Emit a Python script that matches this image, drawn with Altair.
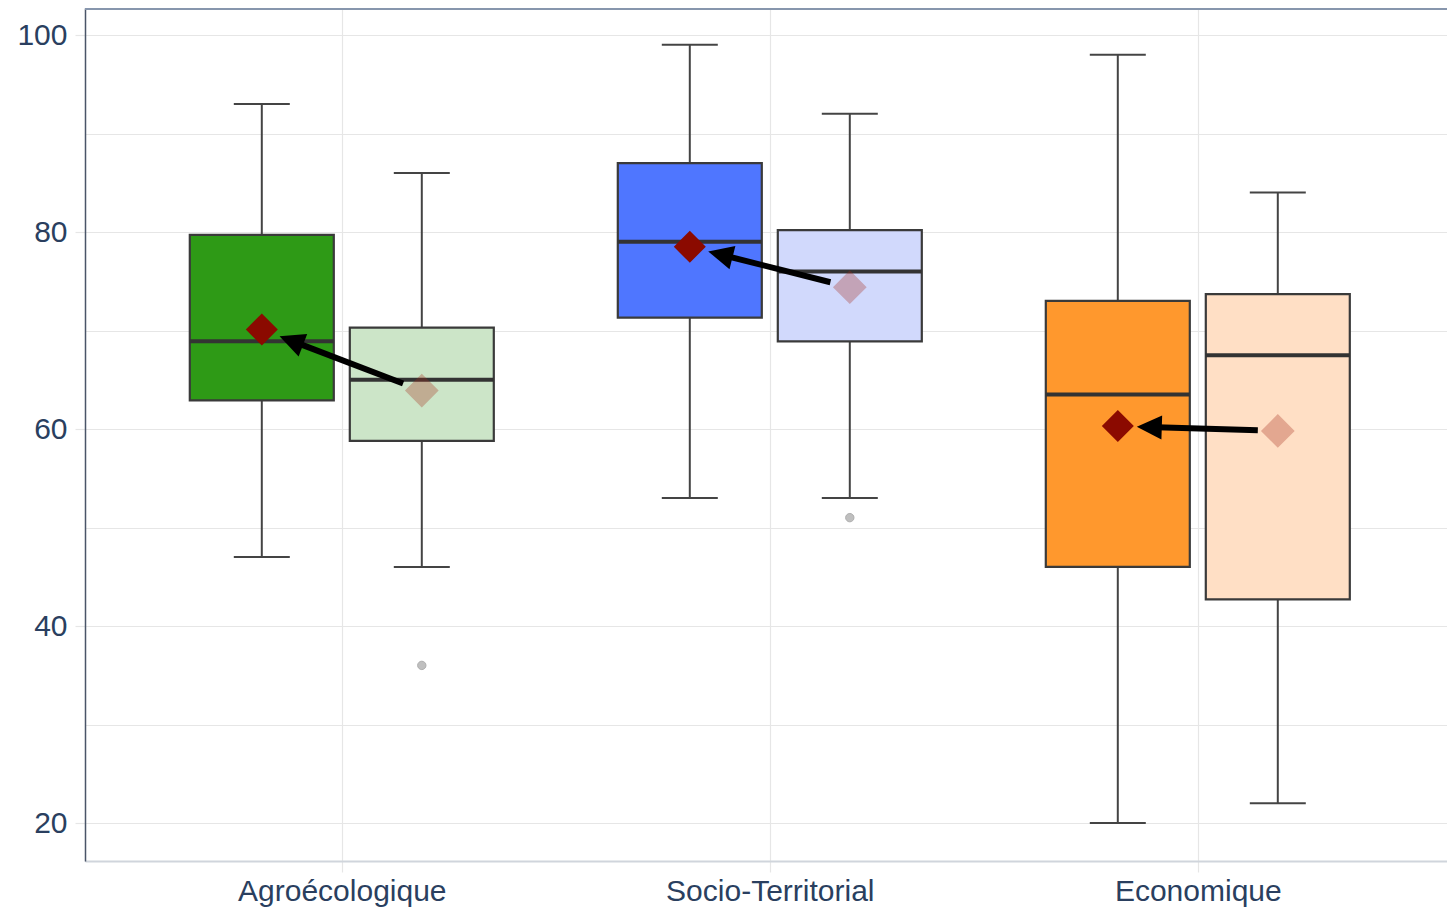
import math
import altair as alt
import pandas as pd

# ---------------- data ----------------
categories = ["Agroécologique", "Socio-Territorial", "Economique"]
series = ["fonce", "clair"]

dark_min = [47.0, 53.0, 20.0]
dark_q1 = [62.9, 71.3, 46.0]
dark_med = [68.9, 79.0, 63.5]
dark_q3 = [79.7, 87.0, 73.0]
dark_max = [93.0, 99.0, 98.0]
dark_mean = [70.1, 78.5, 60.3]

light_min = [46.0, 53.0, 22.0]
light_q1 = [58.8, 68.9, 42.7]
light_med = [65.0, 76.0, 67.5]
light_q3 = [70.3, 80.2, 73.7]
light_max = [86.0, 92.0, 84.0]
light_mean = [63.9, 74.4, 59.8]

outlier_cat = ["Agroécologique", "Socio-Territorial"]
outlier_series = ["clair", "clair"]
outlier_val = [36.0, 51.0]

dark_colors = ["#2e9a16", "#4f76ff", "#ff982d"]
light_colors = ["#cce5c8", "#d1d9fc", "#ffdfc5"]

# ---------------- layout constants ----------------
W, H = 1362, 853
X0, X1 = -0.6, -0.6 + W / 428.0
Y0, Y1 = 20 - 38 / 9.85, 100 + 27 / 9.85
PXX = W / (X1 - X0)
PXY = H / (Y1 - Y0)
OFF = 80 / PXX          # box centre offset
HALF = 72 / PXX         # box half width
CAP = 28 / PXX          # whisker cap half width

rows = []
for i, c in enumerate(categories):
    for s, mn, q1, md, q3, mx, me, col in [
        ("fonce", dark_min[i], dark_q1[i], dark_med[i], dark_q3[i], dark_max[i], dark_mean[i], dark_colors[i]),
        ("clair", light_min[i], light_q1[i], light_med[i], light_q3[i], light_max[i], light_mean[i], light_colors[i]),
    ]:
        xc = i + (-OFF if s == "fonce" else OFF)
        rows.append(dict(cat=c, serie=s, key=c + "|" + s, xc=xc,
                         bl=xc - HALF, br=xc + HALF, cl=xc - CAP, cr=xc + CAP,
                         mn=mn, q1=q1, md=md, q3=q3, mx=mx, mean=me))
boxes = pd.DataFrame(rows)

keys = [c + "|" + s for c in categories for s in series]
key_colors = []
for i in range(len(categories)):
    key_colors += [dark_colors[i], light_colors[i]]

out_rows = []
for c, s, v in zip(outlier_cat, outlier_series, outlier_val):
    i = categories.index(c)
    out_rows.append(dict(x=i + (OFF if s == "clair" else -OFF), y=v))
outliers = pd.DataFrame(out_rows)

# arrows from light mean to dark mean
arr = []
for i, c in enumerate(categories):
    lx, ly = i + OFF, light_mean[i]
    dx_, dy_ = i - OFF, dark_mean[i]
    px = (dx_ - lx) * PXX
    py = -(dy_ - ly) * PXY  # screen coords (down positive)
    L = math.hypot(px, py)
    ux, uy = px / L, py / L
    tail = (lx + 20 * ux / PXX, ly - 20 * uy / PXY)
    tip = (dx_ - 19 * ux / PXX, dy_ + 19 * uy / PXY)
    base = (tip[0] - 20 * ux / PXX, tip[1] + 20 * uy / PXY)
    ang = math.degrees(math.atan2(uy, ux)) % 360
    arr.append(dict(x=tail[0], y=tail[1], x2=base[0], y2=base[1],
                    tx=tip[0], ty=tip[1], angle=ang))
arrows = pd.DataFrame(arr)

xs = alt.Scale(domain=[X0, X1], nice=False, zero=False)
ys = alt.Scale(domain=[Y0, Y1], nice=False, zero=False)

label_expr = "[" + ",".join("'" + c + "'" for c in categories) + "][datum.value]"

x_axis = alt.Axis(values=list(range(len(categories))), labelExpr=label_expr, title=None,
                  grid=True, gridColor="#e6e6e6", gridWidth=1.2,
                  tickColor="#e6e6e6", tickSize=11, tickWidth=1.2,
                  domainColor="#d0d5dc", domainWidth=2,
                  labelFont="Liberation Sans", labelFontSize=30, labelColor="#2a3f5f",
                  labelPadding=4, labelLimit=0)
y_axis = alt.Axis(values=list(range(20, 101, 10)),
                  labelExpr="datum.value % 20 === 0 ? datum.label : ''",
                  title=None, grid=True, gridColor="#e6e6e6", gridWidth=1.2,
                  tickColor="#e6e6e6", tickSize=10, tickWidth=1.2,
                  tickOpacity={"condition": {"test": "datum.value % 20 === 0", "value": 1}, "value": 0},
                  domainColor="#4a5568", domainWidth=1.5,
                  labelFont="Liberation Sans", labelFontSize=30, labelColor="#2a3f5f",
                  labelPadding=8, labelLimit=0)

base_b = alt.Chart(boxes)

whisk = base_b.mark_rule(color="#444444", strokeWidth=2).encode(
    x=alt.X("xc:Q", scale=xs, axis=x_axis), y=alt.Y("mn:Q", scale=ys, axis=y_axis), y2="mx:Q")
cap_hi = base_b.mark_rule(color="#444444", strokeWidth=2).encode(
    x=alt.X("cl:Q", scale=xs), x2="cr:Q", y=alt.Y("mx:Q", scale=ys))
cap_lo = base_b.mark_rule(color="#444444", strokeWidth=2).encode(
    x=alt.X("cl:Q", scale=xs), x2="cr:Q", y=alt.Y("mn:Q", scale=ys))
box = base_b.mark_rect(stroke="#3a3a3a", strokeWidth=2.2).encode(
    x=alt.X("bl:Q", scale=xs), x2="br:Q",
    y=alt.Y("q1:Q", scale=ys), y2="q3:Q",
    fill=alt.Fill("key:N", scale=alt.Scale(domain=keys, range=key_colors), legend=None))
med = base_b.mark_rule(color="#333333", strokeWidth=4).encode(
    x=alt.X("bl:Q", scale=xs), x2="br:Q", y=alt.Y("md:Q", scale=ys))

out_pts = alt.Chart(outliers).mark_point(size=70, filled=True, color="#b0b0b0", opacity=0.8,
                                         stroke="#999999", strokeWidth=1).encode(
    x=alt.X("x:Q", scale=xs), y=alt.Y("y:Q", scale=ys))

mean_light = base_b.transform_filter(alt.datum.serie == "clair").mark_point(
    shape="diamond", size=1000, filled=True, color="#a52a1a", opacity=0.3,
    stroke="#a52a1a", strokeWidth=1.5).encode(
    x=alt.X("xc:Q", scale=xs), y=alt.Y("mean:Q", scale=ys))
mean_dark = base_b.transform_filter(alt.datum.serie == "fonce").mark_point(
    shape="diamond", size=1024, filled=True, color="#8b0a00", opacity=1).encode(
    x=alt.X("xc:Q", scale=xs), y=alt.Y("mean:Q", scale=ys))

arr_line = alt.Chart(arrows).mark_rule(color="black", strokeWidth=6).encode(
    x=alt.X("x:Q", scale=xs), x2="x2:Q", y=alt.Y("y:Q", scale=ys), y2="y2:Q")
arr_head = alt.Chart(arrows).mark_point(
    shape="M0,0L-2,-0.96L-2,0.96Z", size=625, filled=True, color="black", opacity=1).encode(
    x=alt.X("tx:Q", scale=xs), y=alt.Y("ty:Q", scale=ys),
    angle=alt.Angle("angle:Q", scale=None))

top_border = alt.Chart(boxes).mark_rule(color="#8796ad", strokeWidth=2).encode(
    x=alt.value(0), x2=alt.value(W), y=alt.value(1))

chart = alt.layer(whisk, cap_hi, cap_lo, box, med, out_pts, mean_light, mean_dark,
                  arr_line, arr_head, top_border).properties(
    width=W, height=H, autosize="none",
    padding={"left": 77, "top": 0, "right": 0, "bottom": 47},
).configure_view(stroke="#ececec", strokeWidth=1).configure(background="white")

chart.save("out.html", embed_options={"renderer": "svg", "actions": False})
